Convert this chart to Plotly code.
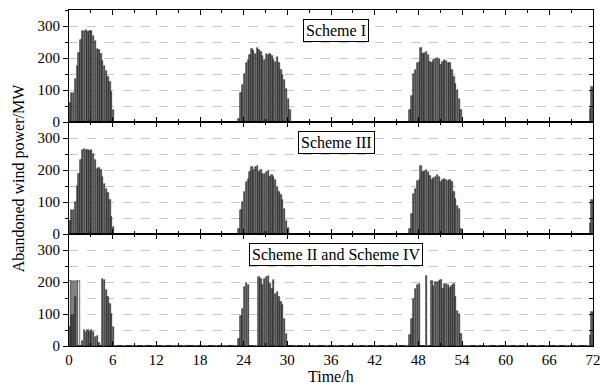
import numpy as np
import plotly.graph_objects as go
from plotly.subplots import make_subplots

STEP = 0.25  # h, 15-min resolution
N_STEPS = 288

# ---- Scheme I : (start hour, values) ----
s1_day1_start, s1_day1 = 0.0, [60, 92, 92, 135, 175, 215, 255, 285, 283, 287, 281, 285, 283, 268, 252,
                               228, 226, 212, 192, 175, 160, 140, 125, 94, 37]
s1_day2_start, s1_day2 = 23.25, [10, 91, 115, 150, 185, 193, 209, 227, 223, 214, 230, 225, 219, 206, 193,
                                 212, 209, 214, 205, 193, 188, 204, 183, 162, 146, 131, 104, 73, 37]
s1_day3_start, s1_day3 = 46.75, [37, 80, 149, 162, 183, 188, 230, 214, 216, 219, 209, 188, 183, 195, 198,
                                 200, 198, 178, 188, 193, 190, 183, 185, 162, 140, 120, 101, 73, 37]
s1_end_start, s1_end = 71.5, [40, 110]

# ---- Scheme III ----
s3_day1_start, s3_day1 = 0.0, [42, 74, 74, 100, 150, 186, 232, 264, 267, 262, 264, 260, 262, 251, 232,
                               204, 207, 199, 178, 157, 140, 128, 105, 52, 21]
s3_day2_start, s3_day2 = 23.25, [16, 74, 100, 130, 162, 173, 194, 209, 199, 209, 211, 194, 201, 188, 188,
                                 194, 197, 178, 183, 178, 168, 147, 131, 121, 105, 79, 42, 19]
s3_day3_start, s3_day3 = 46.75, [16, 63, 126, 141, 167, 169, 211, 194, 197, 201, 194, 180, 170, 176, 178,
                                 183, 178, 162, 170, 173, 170, 166, 168, 162, 131, 110, 89, 79, 16]
s3_end_start, s3_end = 71.5, [35, 105]

# ---- Scheme II and Scheme IV (filled) ----
s24_a_start, s24_a = 0.0, [59, 96, 96, 153, 0, 0, 0, 17, 51, 43, 51, 43, 49, 45, 28, 30, 10]
s24_b_start, s24_b = 4.5, [210, 205, 176, 153, 132, 101, 59]
s24_c_start, s24_c = 23.25, [22, 95, 116, 184, 197, 190]
s24_d_start, s24_d = 26.0, [216, 210, 190, 210, 216, 218, 195, 179, 207, 164, 169, 153, 137, 127, 85, 38]
s24_e_start, s24_e = 46.75, [35, 85, 148, 179, 190, 193]
s24_f_start, s24_f = 49.0, [218]
s24_g_start, s24_g = 49.75, [203, 186, 200, 200, 203, 205, 179, 195, 193, 190, 182, 186, 195, 153, 109, 101, 38]
s24_end_start, s24_end = 71.5, [35, 105]
# hollow bars (Scheme IV differing at the start)
s4_hollow_start, s4_hollow = 0.0, [202, 202, 202, 202, 202, 202]

y_ticks = [0, 100, 200, 300]
y_minor_ticks = [0, 50, 100, 150, 200, 250, 300, 350]
x_ticks = list(range(0, 73, 6))
panel_titles = ["Scheme I", "Scheme III", "Scheme II and Scheme IV"]

hours = np.arange(N_STEPS) * STEP


def build(*parts):
    arr = np.zeros(N_STEPS)
    for start, vals in parts:
        i0 = int(round(start / STEP))
        arr[i0:i0 + len(vals)] = vals
    return arr


scheme1 = build((s1_day1_start, s1_day1), (s1_day2_start, s1_day2), (s1_day3_start, s1_day3), (s1_end_start, s1_end))
scheme3 = build((s3_day1_start, s3_day1), (s3_day2_start, s3_day2), (s3_day3_start, s3_day3), (s3_end_start, s3_end))
scheme24 = build((s24_a_start, s24_a), (s24_b_start, s24_b), (s24_c_start, s24_c), (s24_d_start, s24_d),
                 (s24_e_start, s24_e), (s24_f_start, s24_f), (s24_g_start, s24_g), (s24_end_start, s24_end))
scheme4_hollow = build((s4_hollow_start, s4_hollow))

fig = make_subplots(rows=3, cols=1, shared_xaxes=True, vertical_spacing=0)

FILL = "#686868"
EDGE = "#151515"
bar_kw = dict(width=STEP * 0.76, offset=STEP * 0.12, marker_line=dict(color=EDGE, width=0.6), showlegend=False)

fig.add_trace(go.Bar(x=hours, y=scheme1, marker_color=FILL, **bar_kw), row=1, col=1)
fig.add_trace(go.Bar(x=hours, y=scheme3, marker_color=FILL, **bar_kw), row=2, col=1)
fig.add_trace(go.Bar(x=hours, y=scheme4_hollow, marker_color="white", **bar_kw), row=3, col=1)
fig.add_trace(go.Bar(x=hours, y=scheme24, marker_color=FILL, **bar_kw), row=3, col=1)

FONT = "Liberation Serif"
for r in range(1, 4):
    fig.update_yaxes(range=[0, 350], tickvals=y_ticks, ticks="outside", ticklen=5, tickcolor="black",
                     minor=dict(dtick=50, ticks="outside", ticklen=3, tickcolor="black", showgrid=True,
                                gridcolor="#c8c8c8", griddash="dash", gridwidth=1),
                     showgrid=True, gridcolor="#c8c8c8", griddash="dash", gridwidth=1,
                     showline=True, linecolor="black", linewidth=1, mirror=True, zeroline=False,
                     automargin=False,
                     tickfont=dict(family=FONT, size=15, color="black"), row=r, col=1)
    fig.update_xaxes(range=[0, 72], tickvals=x_ticks, ticks="inside", ticklen=5, tickcolor="black",
                     minor=dict(dtick=3, ticks="inside", ticklen=3, tickcolor="black", showgrid=False),
                     showgrid=False, showline=True, linecolor="black", linewidth=1, mirror="ticks",
                     zeroline=False, showticklabels=(r == 3), automargin=False,
                     tickfont=dict(family=FONT, size=15, color="black"), row=r, col=1)

# right-side inward ticks (overlay axes)
for r, base in zip(range(1, 4), ["y", "y2", "y3"]):
    ax_name = f"yaxis{3 + r}"
    fig.update_layout(**{ax_name: dict(overlaying=base, side="right", anchor="x" if r == 1 else f"x{r}",
                                       range=[0, 350], tickvals=y_minor_ticks, ticks="inside", ticklen=4,
                                       tickcolor="black", showticklabels=False, showgrid=False,
                                       showline=False, zeroline=False, automargin=False)})
    fig.add_trace(go.Scatter(x=[None], y=[None], xaxis="x" if r == 1 else f"x{r}", yaxis=f"y{3 + r}",
                             showlegend=False, hoverinfo="skip"))

for i, title in enumerate(panel_titles):
    fig.add_annotation(text=title, x=36.7, y=285, xref=f"x{'' if i == 0 else i + 1}",
                       yref=f"y{'' if i == 0 else i + 1}", showarrow=False,
                       font=dict(family=FONT, size=16, color="black"),
                       bgcolor="white", bordercolor="black", borderwidth=1, borderpad=2)

fig.add_annotation(text="Abandoned wind power/MW", xref="paper", yref="paper", x=-0.095, y=0.5,
                   textangle=-90, showarrow=False, xanchor="center", yanchor="middle",
                   font=dict(family=FONT, size=16, color="black"))
fig.add_annotation(text="Time/h", xref="paper", yref="paper", x=0.5, y=-0.092,
                   showarrow=False, xanchor="center", yanchor="middle",
                   font=dict(family=FONT, size=16, color="black"))

fig.update_layout(width=602, height=387, margin=dict(l=69, r=9, t=10, b=41),
                  plot_bgcolor="white", paper_bgcolor="white", barmode="overlay", bargap=0)

fig.write_html("out.html", config={"displayModeBar": False},
               post_script="document.body.style.margin='0';")
